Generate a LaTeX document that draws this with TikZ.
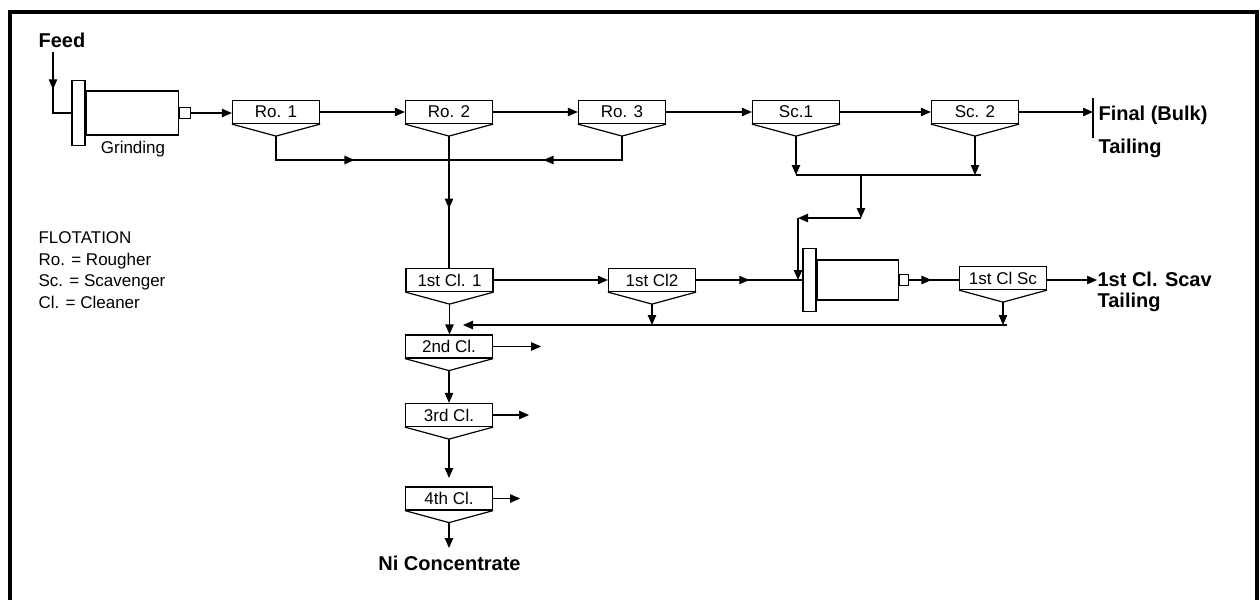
\documentclass[tikz,border=0pt]{standalone}
\usepackage{fontspec}
\setmainfont{Liberation Sans}
\usetikzlibrary{arrows.meta,decorations.markings}

\begin{document}
\begin{tikzpicture}[x=0.5pt, y=-0.5pt, line width=0.6pt,
  font=\fontsize{8.5}{10}\selectfont, >={Triangle[length=5pt,width=4.2pt]},
  cell/.style={draw, minimum width=43.5pt, minimum height=11.5pt, inner sep=0pt},
  plate/.style={draw, minimum width=6.5pt, inner sep=0pt},
  barrel/.style={draw, inner sep=0pt, anchor=west},
  lbl/.style={font=\fontsize{10}{10.5}\selectfont\bfseries, inner sep=0pt},
  arr/.style={->},
  mid/.style={postaction={decorate}, decoration={markings, mark=at position #1 with {\arrow{>}}}}]
  \useasboundingbox (0,0) rectangle (1260,600);
  \draw[line width=2pt] (10,600) -- (10,12) -- (1257,12) -- (1257,600);

  \node[lbl] (feed) at (62,40) {Feed};
  \coordinate (fd) at (53,52);
  \node[plate, minimum height=32.5pt] (mill1p) at (78.5,113) {};
  \node[barrel, minimum width=46pt, minimum height=22pt] (mill1b) at (mill1p.east) {};
  \node[barrel, minimum width=5.5pt, minimum height=5.5pt] (mill1n) at (mill1b.east) {};
  \node (grind) at (133,149) {Grinding};

  \node[cell] (ro1) at (276,112) {Ro. 1};
  \node[cell] (ro2) at (449,112) {Ro. 2};
  \node[cell] (ro3) at (622,112) {Ro. 3};
  \node[cell] (sc1) at (796,112) {Sc.1};
  \node[cell] (sc2) at (975,112) {Sc. 2};
  \coordinate (fbar) at (1093,112);
  \node[lbl, anchor=west] (final) at (1098,115) {Final (Bulk)};
  \node[lbl, anchor=west] (tail1) at (1098,148) {Tailing};

  \node[anchor=north west, align=left, inner sep=0pt, font=\fontsize{8.5}{10.8}\selectfont] (legend) at (38,231)
    {FLOTATION\\Ro. = Rougher\\Sc. = Scavenger\\Cl. = Cleaner};

  \node[cell] (cl11) at (449.5,280) {1st Cl. 1};
  \node[cell] (cl12) at (652,280) {1st Cl2};
  \node[plate, minimum height=31.5pt] (mill2p) at (809.5,280) {};
  \node[barrel, minimum width=40.5pt, minimum height=20pt] (mill2b) at (mill2p.east) {};
  \node[barrel, minimum width=4.5pt, minimum height=5.5pt] (mill2n) at (mill2b.east) {};
  \node[cell] (clsc) at (1003,278) {1st Cl Sc};
  \coordinate (scavt) at (1097,280);
  \node[lbl, anchor=west, align=left] (scav) at (1097,292) {1st Cl. Scav\\Tailing};

  \node[cell] (cl2) at (449,346.5) {2nd Cl.};
  \node[cell] (cl3) at (449,415) {3rd Cl.};
  \node[cell] (cl4) at (449,498.5) {4th Cl.};
  \node[lbl] (conc) at (449.5,563) {Ni Concentrate};

  \foreach \c in {ro1,ro2,ro3,sc1,sc2,cl11,cl12,clsc,cl2,cl3,cl4}
    \draw (\c.south west) -- ([yshift=-6pt]\c.south) coordinate (\c-v) -- (\c.south east);

  \draw[mid=0.47] (fd) |- (mill1p.west);
  \draw[arr] (mill1n.east) -- (mill1n.east -| ro1.west);
  \foreach \a/\b in {ro1/ro2, ro2/ro3, ro3/sc1, sc1/sc2, cl11/cl12}
    \draw[arr] (\a) -- (\b);
  \draw[arr] (sc2) -- (fbar);
  \draw (fbar) ++(0,-14) -- ++(0,40);

  \coordinate (rj) at (ro2-v |- 0,160);
  \draw[mid=0.52] (ro1-v) |- (rj);
  \draw[mid=0.52] (ro3-v) |- (rj);
  \draw[mid=0.55] (ro2-v) -- (ro2-v |- cl11.north);

  \coordinate (s1) at (sc1-v |- 0,175);
  \coordinate (s2) at (sc2-v |- 0,175);
  \coordinate (sj) at (861,175);
  \coordinate (sk) at (861,218);
  \coordinate (sl) at (798,218);
  \draw[arr] (sc1-v) -- (s1);
  \draw[arr] (sc2-v) -- (s2);
  \draw (s1) -- ([xshift=3pt]s2);
  \draw[arr] (sj) -- (sk);
  \draw[arr] (sk) -- (sl);
  \draw[arr] (sl) -- (sl |- mill2p.west);

  \draw[mid=0.5] (cl12) -- (mill2p);
  \draw[mid=0.45] (mill2n.east) -- (mill2n.east -| clsc.west);
  \draw[arr] (clsc.east |- mill2n) -- (scavt);

  \coordinate (r1) at (1007,325);
  \coordinate (r2) at (463,325);
  \draw[arr] (r1) -- (r2);
  \draw[arr] (clsc-v) -- (clsc-v |- r1);
  \draw[arr] (cl12-v) -- (cl12-v |- r1);

  \draw[arr] (cl11-v) -- (cl11-v |- cl2.north);
  \draw[arr] (cl2-v) -- (cl2-v |- cl3.north);
  \draw[arr] (cl3-v) -- (cl3-v |- 0,478);
  \draw[arr] (cl4-v) -- (cl4-v |- 0,548);
  \draw[arr] (cl2.east) -- ++(48,0);
  \draw[arr] (cl3.east) -- ++(36,0);
  \draw[arr] (cl4.east) -- ++(27,0);
\end{tikzpicture}
\end{document}
